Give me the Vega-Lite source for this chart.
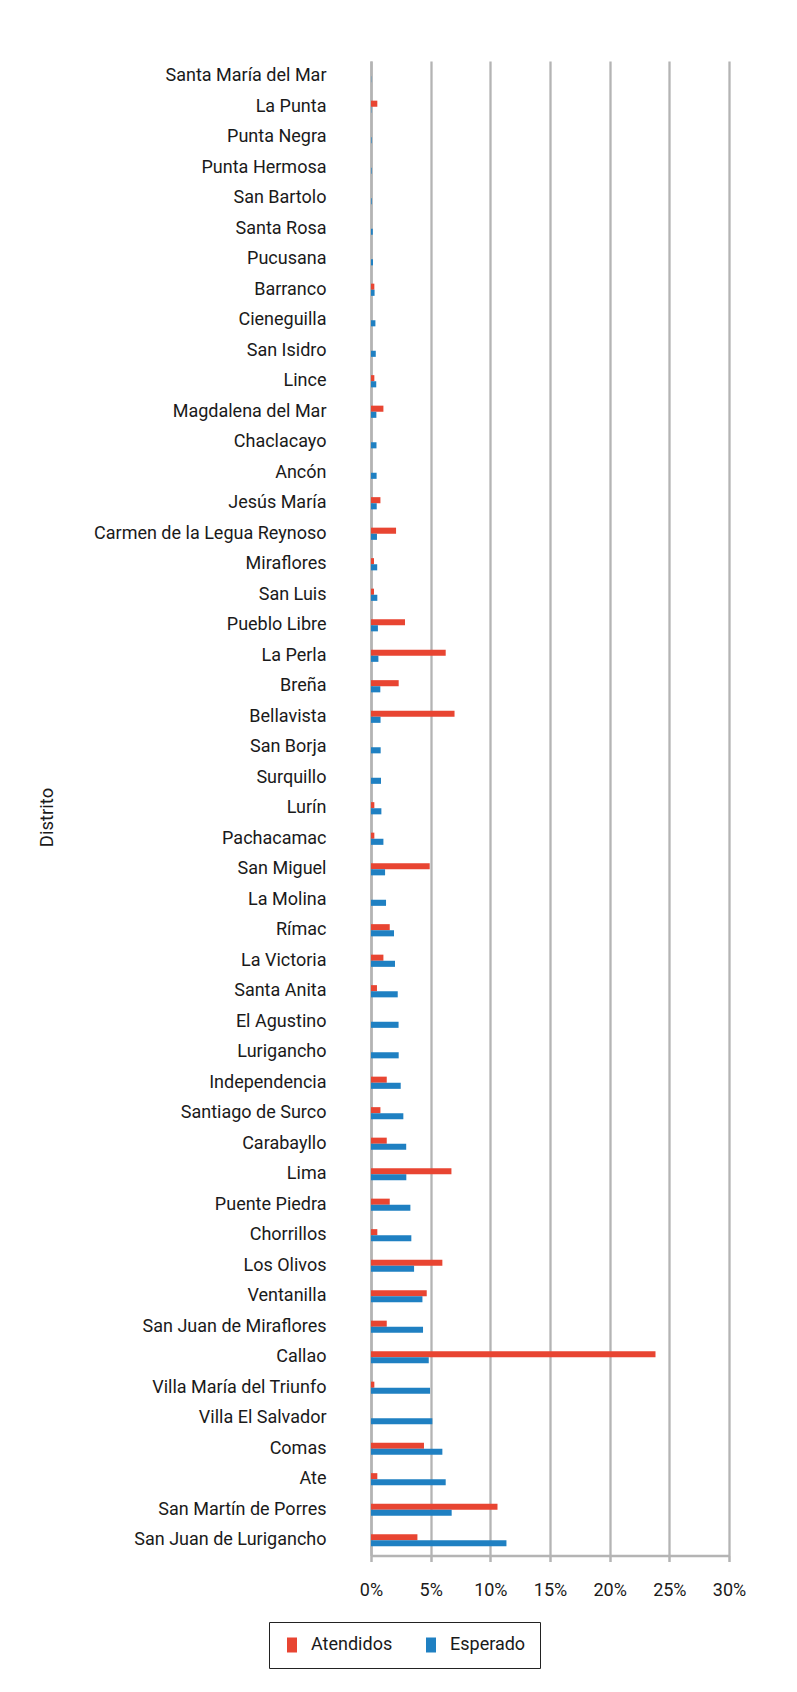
{
  "$schema": "https://vega.github.io/schema/vega-lite/v6.json",
  "width": 358,
  "height": 1494.5,
  "autosize": {"type": "none"},
  "padding": {"left": 371, "top": 61, "right": 68, "bottom": 136.5},
  "background": "white",
  "config": {
    "view": {"stroke": null},
    "font": "Roboto"
  },
  "data": {
    "values": [
      {"distrito": "Santa María del Mar", "serie": "Atendidos", "valor": 0},
      {"distrito": "Santa María del Mar", "serie": "Esperado", "valor": 0.0002},
      {"distrito": "La Punta", "serie": "Atendidos", "valor": 0.0053},
      {"distrito": "La Punta", "serie": "Esperado", "valor": 0.0003},
      {"distrito": "Punta Negra", "serie": "Atendidos", "valor": 0},
      {"distrito": "Punta Negra", "serie": "Esperado", "valor": 0.0005},
      {"distrito": "Punta Hermosa", "serie": "Atendidos", "valor": 0},
      {"distrito": "Punta Hermosa", "serie": "Esperado", "valor": 0.0005},
      {"distrito": "San Bartolo", "serie": "Atendidos", "valor": 0},
      {"distrito": "San Bartolo", "serie": "Esperado", "valor": 0.0006},
      {"distrito": "Santa Rosa", "serie": "Atendidos", "valor": 0},
      {"distrito": "Santa Rosa", "serie": "Esperado", "valor": 0.0015},
      {"distrito": "Pucusana", "serie": "Atendidos", "valor": 0},
      {"distrito": "Pucusana", "serie": "Esperado", "valor": 0.0017},
      {"distrito": "Barranco", "serie": "Atendidos", "valor": 0.0028},
      {"distrito": "Barranco", "serie": "Esperado", "valor": 0.003},
      {"distrito": "Cieneguilla", "serie": "Atendidos", "valor": 0},
      {"distrito": "Cieneguilla", "serie": "Esperado", "valor": 0.0037},
      {"distrito": "San Isidro", "serie": "Atendidos", "valor": 0},
      {"distrito": "San Isidro", "serie": "Esperado", "valor": 0.004},
      {"distrito": "Lince", "serie": "Atendidos", "valor": 0.0028},
      {"distrito": "Lince", "serie": "Esperado", "valor": 0.0044},
      {"distrito": "Magdalena del Mar", "serie": "Atendidos", "valor": 0.0104},
      {"distrito": "Magdalena del Mar", "serie": "Esperado", "valor": 0.0045},
      {"distrito": "Chaclacayo", "serie": "Atendidos", "valor": 0},
      {"distrito": "Chaclacayo", "serie": "Esperado", "valor": 0.0046},
      {"distrito": "Ancón", "serie": "Atendidos", "valor": 0},
      {"distrito": "Ancón", "serie": "Esperado", "valor": 0.0047},
      {"distrito": "Jesús María", "serie": "Atendidos", "valor": 0.0079},
      {"distrito": "Jesús María", "serie": "Esperado", "valor": 0.0048},
      {"distrito": "Carmen de la Legua Reynoso", "serie": "Atendidos", "valor": 0.021},
      {"distrito": "Carmen de la Legua Reynoso", "serie": "Esperado", "valor": 0.005},
      {"distrito": "Miraflores", "serie": "Atendidos", "valor": 0.0025},
      {"distrito": "Miraflores", "serie": "Esperado", "valor": 0.0052},
      {"distrito": "San Luis", "serie": "Atendidos", "valor": 0.0025},
      {"distrito": "San Luis", "serie": "Esperado", "valor": 0.0053},
      {"distrito": "Pueblo Libre", "serie": "Atendidos", "valor": 0.0285},
      {"distrito": "Pueblo Libre", "serie": "Esperado", "valor": 0.0058},
      {"distrito": "La Perla", "serie": "Atendidos", "valor": 0.0626},
      {"distrito": "La Perla", "serie": "Esperado", "valor": 0.0062},
      {"distrito": "Breña", "serie": "Atendidos", "valor": 0.0232},
      {"distrito": "Breña", "serie": "Esperado", "valor": 0.0078},
      {"distrito": "Bellavista", "serie": "Atendidos", "valor": 0.07},
      {"distrito": "Bellavista", "serie": "Esperado", "valor": 0.008},
      {"distrito": "San Borja", "serie": "Atendidos", "valor": 0},
      {"distrito": "San Borja", "serie": "Esperado", "valor": 0.0081},
      {"distrito": "Surquillo", "serie": "Atendidos", "valor": 0},
      {"distrito": "Surquillo", "serie": "Esperado", "valor": 0.0084},
      {"distrito": "Lurín", "serie": "Atendidos", "valor": 0.0028},
      {"distrito": "Lurín", "serie": "Esperado", "valor": 0.0087},
      {"distrito": "Pachacamac", "serie": "Atendidos", "valor": 0.0028},
      {"distrito": "Pachacamac", "serie": "Esperado", "valor": 0.0104},
      {"distrito": "San Miguel", "serie": "Atendidos", "valor": 0.0492},
      {"distrito": "San Miguel", "serie": "Esperado", "valor": 0.0118},
      {"distrito": "La Molina", "serie": "Atendidos", "valor": 0},
      {"distrito": "La Molina", "serie": "Esperado", "valor": 0.0126},
      {"distrito": "Rímac", "serie": "Atendidos", "valor": 0.0157},
      {"distrito": "Rímac", "serie": "Esperado", "valor": 0.0193},
      {"distrito": "La Victoria", "serie": "Atendidos", "valor": 0.0104},
      {"distrito": "La Victoria", "serie": "Esperado", "valor": 0.0201},
      {"distrito": "Santa Anita", "serie": "Atendidos", "valor": 0.005},
      {"distrito": "Santa Anita", "serie": "Esperado", "valor": 0.0224},
      {"distrito": "El Agustino", "serie": "Atendidos", "valor": 0},
      {"distrito": "El Agustino", "serie": "Esperado", "valor": 0.0231},
      {"distrito": "Lurigancho", "serie": "Atendidos", "valor": 0},
      {"distrito": "Lurigancho", "serie": "Esperado", "valor": 0.0232},
      {"distrito": "Independencia", "serie": "Atendidos", "valor": 0.0132},
      {"distrito": "Independencia", "serie": "Esperado", "valor": 0.0249},
      {"distrito": "Santiago de Surco", "serie": "Atendidos", "valor": 0.0079},
      {"distrito": "Santiago de Surco", "serie": "Esperado", "valor": 0.0271},
      {"distrito": "Carabayllo", "serie": "Atendidos", "valor": 0.0132},
      {"distrito": "Carabayllo", "serie": "Esperado", "valor": 0.0295},
      {"distrito": "Lima", "serie": "Atendidos", "valor": 0.0674},
      {"distrito": "Lima", "serie": "Esperado", "valor": 0.0296},
      {"distrito": "Puente Piedra", "serie": "Atendidos", "valor": 0.0157},
      {"distrito": "Puente Piedra", "serie": "Esperado", "valor": 0.033},
      {"distrito": "Chorrillos", "serie": "Atendidos", "valor": 0.0053},
      {"distrito": "Chorrillos", "serie": "Esperado", "valor": 0.0338},
      {"distrito": "Los Olivos", "serie": "Atendidos", "valor": 0.0598},
      {"distrito": "Los Olivos", "serie": "Esperado", "valor": 0.0361},
      {"distrito": "Ventanilla", "serie": "Atendidos", "valor": 0.0467},
      {"distrito": "Ventanilla", "serie": "Esperado", "valor": 0.0431},
      {"distrito": "San Juan de Miraflores", "serie": "Atendidos", "valor": 0.0132},
      {"distrito": "San Juan de Miraflores", "serie": "Esperado", "valor": 0.0436},
      {"distrito": "Callao", "serie": "Atendidos", "valor": 0.2384},
      {"distrito": "Callao", "serie": "Esperado", "valor": 0.0484},
      {"distrito": "Villa María del Triunfo", "serie": "Atendidos", "valor": 0.0028},
      {"distrito": "Villa María del Triunfo", "serie": "Esperado", "valor": 0.0495},
      {"distrito": "Villa El Salvador", "serie": "Atendidos", "valor": 0},
      {"distrito": "Villa El Salvador", "serie": "Esperado", "valor": 0.0514},
      {"distrito": "Comas", "serie": "Atendidos", "valor": 0.0444},
      {"distrito": "Comas", "serie": "Esperado", "valor": 0.0598},
      {"distrito": "Ate", "serie": "Atendidos", "valor": 0.0053},
      {"distrito": "Ate", "serie": "Esperado", "valor": 0.0626},
      {"distrito": "San Martín de Porres", "serie": "Atendidos", "valor": 0.106},
      {"distrito": "San Martín de Porres", "serie": "Esperado", "valor": 0.0676},
      {"distrito": "San Juan de Lurigancho", "serie": "Atendidos", "valor": 0.0389},
      {"distrito": "San Juan de Lurigancho", "serie": "Esperado", "valor": 0.1135}
    ]
  },
  "mark": {"type": "bar"},
  "encoding": {
    "y": {
      "field": "distrito",
      "type": "nominal",
      "sort": null,
      "scale": {"paddingInner": 0.6, "paddingOuter": 0.3},
      "axis": {
        "title": "Distrito",
        "titleFontSize": 18.5,
        "titleFontWeight": "normal",
        "titleColor": "#1a1a1a",
        "titleX": -319,
        "titleBaseline": "alphabetic",
        "titleY": 756,
        "labelFontSize": 18,
        "labelColor": "#1a1a1a",
        "labelPadding": 45,
        "labelLimit": 400,
        "ticks": false,
        "domain": true,
        "domainColor": "#B4B4B4",
        "domainWidth": 2.5
      }
    },
    "yOffset": {
      "field": "serie",
      "type": "nominal",
      "scale": {"paddingInner": 0, "paddingOuter": 0}
    },
    "x": {
      "field": "valor",
      "type": "quantitative",
      "scale": {"domain": [0, 0.3]},
      "axis": {
        "title": null,
        "format": ".0%",
        "values": [0, 0.05, 0.1, 0.15, 0.2, 0.25, 0.3],
        "labelFontSize": 18,
        "labelColor": "#1a1a1a",
        "labelPadding": 20,
        "labelOverlap": false,
        "labelFlush": false,
        "tickSize": 6,
        "tickColor": "#B4B4B4",
        "tickWidth": 2.5,
        "domainColor": "#B4B4B4",
        "domainWidth": 2.5,
        "grid": true,
        "gridColor": "#B4B4B4",
        "gridWidth": 2.3
      }
    },
    "color": {
      "field": "serie",
      "type": "nominal",
      "scale": {"domain": ["Atendidos", "Esperado"], "range": ["#E84532", "#1F80C2"]},
      "legend": {
        "orient": "none",
        "legendX": -102,
        "legendY": 1561,
        "direction": "horizontal",
        "title": null,
        "strokeColor": "#222222",
        "padding": 14,
        "symbolType": "M-0.667,-1H0.667V1H-0.667Z",
        "symbolSize": 225,
        "symbolStrokeWidth": 0,
        "symbolOpacity": 1,
        "labelFontSize": 18,
        "labelColor": "#1a1a1a",
        "labelOffset": 10,
        "columnPadding": 29
      }
    }
  }
}
